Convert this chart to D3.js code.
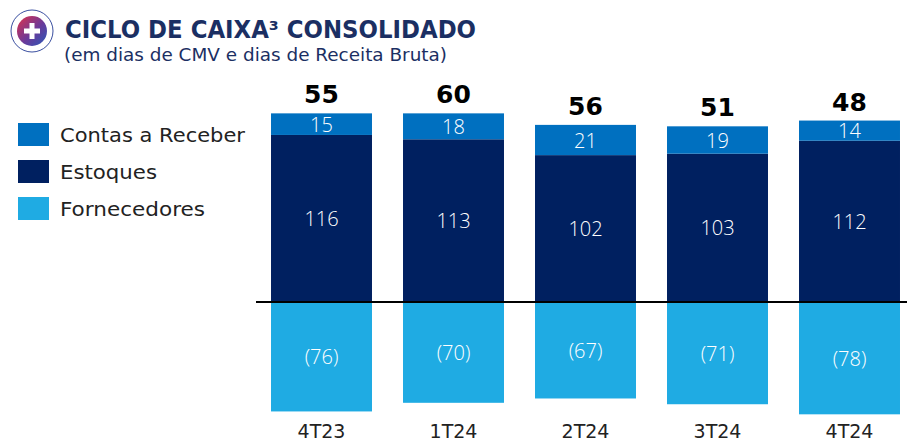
<!DOCTYPE html>
<html lang="pt">
<head>
  <meta charset="UTF-8">
  <title>Ciclo de Caixa Consolidado</title>
  <script src="https://d3js.org/d3.v7.min.js"></script>
  <style>
    body { margin: 0; background: #fff; }
    svg { font-family: "DejaVu Sans", "Open Sans", sans-serif; }
  </style>
</head>
<body>
  <svg width="907" height="443"></svg>
  <script>
    const categories = ["4T23", "1T24", "2T24", "3T24", "4T24"];
    const receber = [15, 18, 21, 19, 14];
    const estoques = [116, 113, 102, 103, 112];
    const fornecedores = [-76, -70, -67, -71, -78];
    const totals = [55, 60, 56, 51, 48];

    const colors = { receber: "#0070c0", estoques: "#002060", fornecedores: "#1fabe3" };

    const svg = d3.select("svg");

    // logo
    const logo = svg.append("g").attr("transform", "translate(32,31)");
    const grad = svg.append("defs").append("linearGradient")
      .attr("id", "lg").attr("x1", "0").attr("y1", "0").attr("x2", "1").attr("y2", "1");
    grad.append("stop").attr("offset", "0%").attr("stop-color", "#e0304a");
    grad.append("stop").attr("offset", "55%").attr("stop-color", "#6a3a9a");
    grad.append("stop").attr("offset", "100%").attr("stop-color", "#2a5ab8");
    logo.append("circle").attr("r", 21).attr("fill", "none").attr("stroke", "#3a4fa0").attr("stroke-width", 1);
    logo.append("circle").attr("r", 15).attr("fill", "url(#lg)");
    logo.append("path").attr("d", "M-2.5,-8h5v5.5h5.5v5h-5.5v5.5h-5v-5.5h-5.5v-5h5.5z").attr("fill", "#fff");

    svg.append("text").attr("x", 65).attr("y", 38)
      .attr("font-size", 24).attr("font-weight", 700).attr("fill", "#1b2f63")
      .attr("textLength", 411).attr("lengthAdjust", "spacingAndGlyphs")
      .text("CICLO DE CAIXA³ CONSOLIDADO");
    svg.append("text").attr("x", 64).attr("y", 61)
      .attr("font-size", 17).attr("fill", "#1b2f63")
      .attr("textLength", 383).attr("lengthAdjust", "spacingAndGlyphs")
      .text("(em dias de CMV e dias de Receita Bruta)");

    // legend
    const legendNames = ["Contas a Receber", "Estoques", "Fornecedores"];
    const legendColors = [colors.receber, colors.estoques, colors.fornecedores];
    const legendWidths = [185, 97, 145];
    legendNames.forEach((name, i) => {
      const y = 123 + i * 37;
      svg.append("rect").attr("x", 18).attr("y", y).attr("width", 31).attr("height", 23).attr("fill", legendColors[i]);
      svg.append("text").attr("x", 60).attr("y", y + 19).attr("font-size", 20).attr("fill", "#222")
        .attr("textLength", legendWidths[i]).attr("lengthAdjust", "spacingAndGlyphs")
        .text(name);
    });

    const x = d3.scaleBand().domain(categories).range([255.5, 915.5]).paddingInner(0.235).paddingOuter(0.1175);
    const y = d3.scaleLinear().domain([-100, 150]).range([446, 86]);

    const data = categories.map((c, i) => ({ c, r: receber[i], e: estoques[i], f: fornecedores[i], t: totals[i] }));

    const g = svg.append("g");
    // fornecedores
    g.selectAll(".forn").data(data).join("rect")
      .attr("x", d => x(d.c)).attr("width", x.bandwidth())
      .attr("y", y(0)).attr("height", d => y(d.f) - y(0))
      .attr("fill", colors.fornecedores);
    // estoques
    g.selectAll(".est").data(data).join("rect")
      .attr("x", d => x(d.c)).attr("width", x.bandwidth())
      .attr("y", d => y(d.e)).attr("height", d => y(0) - y(d.e))
      .attr("fill", colors.estoques);
    // receber
    g.selectAll(".rec").data(data).join("rect")
      .attr("x", d => x(d.c)).attr("width", x.bandwidth())
      .attr("y", d => y(d.e + d.r)).attr("height", d => y(d.e) - y(d.e + d.r))
      .attr("fill", colors.receber);

    const lab = (sel) => sel.attr("text-anchor", "middle").attr("fill", "#fff")
      .attr("font-family", "'Open Sans', sans-serif")
      .attr("font-size", 20).attr("font-weight", 300).attr("dominant-baseline", "central");

    g.selectAll(".lf").data(data).join("text").call(lab)
      .attr("x", d => x(d.c) + x.bandwidth() / 2).attr("y", d => y(d.f / 2))
      .text(d => `(${-d.f})`);
    g.selectAll(".le").data(data).join("text").call(lab)
      .attr("x", d => x(d.c) + x.bandwidth() / 2).attr("y", d => y(d.e / 2))
      .text(d => d.e);
    g.selectAll(".lr").data(data).join("text").call(lab)
      .attr("x", d => x(d.c) + x.bandwidth() / 2).attr("y", d => y(d.e + d.r / 2))
      .text(d => d.r);

    g.selectAll(".lt").data(data).join("text")
      .attr("text-anchor", "middle").attr("font-size", 25).attr("font-weight", 700).attr("fill", "#000")
      .attr("x", d => x(d.c) + x.bandwidth() / 2).attr("y", d => y(d.e + d.r) - 10)
      .text(d => d.t);

    // baseline
    svg.append("line").attr("x1", 256).attr("x2", 907).attr("y1", y(0)).attr("y2", y(0))
      .attr("stroke", "#000").attr("stroke-width", 2);

    // category axis
    const ax = svg.append("g").attr("transform", "translate(0,424)")
      .call(d3.axisBottom(x).tickSize(0).tickPadding(0));
    ax.select(".domain").remove();
    ax.selectAll("text").attr("font-size", 19).attr("fill", "#222")
      .attr("font-family", "'DejaVu Sans', sans-serif");
  </script>
</body>
</html>
